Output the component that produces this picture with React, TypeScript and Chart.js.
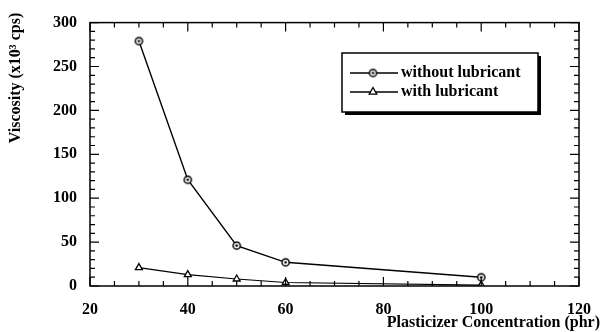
import React, { useEffect, useRef } from "react";
import { Chart, registerables } from "chart.js";

Chart.register(...registerables);

const concentration = [30, 40, 50, 60, 100];
const withoutLubricant = [279, 121, 46, 27, 10];
const withLubricant = [21, 13, 8, 4, 1];
const xTickLabels = [20, 40, 60, 80, 100, 120];
const yTickLabels = [0, 50, 100, 150, 200, 250, 300];
const seriesNames = ["without lubricant", "with lubricant"];
const yTitle = "Viscosity (x10\u00B3 cps)";
const xTitle = "Plasticizer Concentration (phr)";

const FONT = "'Liberation Serif', 'DejaVu Serif', serif";

function makeCircleMarker(): HTMLCanvasElement {
  const c = document.createElement("canvas");
  c.width = 11;
  c.height = 11;
  const g = c.getContext("2d")!;
  g.fillStyle = "#fff";
  g.strokeStyle = "#000";
  g.lineWidth = 1.5;
  g.beginPath();
  g.arc(5.5, 5.5, 3.6, 0, Math.PI * 2);
  g.fill();
  g.stroke();
  g.fillStyle = "#000";
  g.beginPath();
  g.arc(5.5, 5.5, 1.3, 0, Math.PI * 2);
  g.fill();
  return c;
}

function drawTriangle(ctx: CanvasRenderingContext2D, x: number, y: number, r: number) {
  ctx.save();
  ctx.fillStyle = "#fff";
  ctx.strokeStyle = "#000";
  ctx.lineWidth = 1.3;
  ctx.beginPath();
  ctx.moveTo(x, y - r);
  ctx.lineTo(x + r * 0.95, y + r * 0.65);
  ctx.lineTo(x - r * 0.95, y + r * 0.65);
  ctx.closePath();
  ctx.fill();
  ctx.stroke();
  ctx.restore();
}

export default function App() {
  const ref = useRef<HTMLCanvasElement>(null);

  useEffect(() => {
    if (!ref.current) return;
    const circle = makeCircleMarker();

    const framePlugin = {
      id: "frame",
      afterDraw(chart: any) {
        const ctx = chart.ctx as CanvasRenderingContext2D;
        const { left, right, top, bottom } = chart.chartArea;
        const xs = chart.scales.x;
        const ys = chart.scales.y;
        ctx.save();
        ctx.strokeStyle = "#000";
        ctx.lineWidth = 1.5;
        ctx.strokeRect(left, top, right - left, bottom - top);
        ctx.lineWidth = 1.2;
        for (let v = xs.min; v <= xs.max + 1e-6; v += 5) {
          const px = xs.getPixelForValue(v);
          const len = v % 20 === 0 ? 9 : 5;
          ctx.beginPath();
          ctx.moveTo(px, bottom);
          ctx.lineTo(px, bottom - len);
          ctx.moveTo(px, top);
          ctx.lineTo(px, top + len);
          ctx.stroke();
        }
        for (let v = ys.min; v <= ys.max + 1e-6; v += 10) {
          const py = ys.getPixelForValue(v);
          const len = v % 50 === 0 ? 9 : 5;
          ctx.beginPath();
          ctx.moveTo(left, py);
          ctx.lineTo(left + len, py);
          ctx.moveTo(right, py);
          ctx.lineTo(right - len, py);
          ctx.stroke();
        }
        ctx.fillStyle = "#000";
        ctx.font = `bold 16px ${FONT}`;
        ctx.textBaseline = "middle";
        ctx.textAlign = "right";
        ctx.fillText(xTitle, 600, 323);
        ctx.save();
        ctx.translate(16, 78);
        ctx.rotate(-Math.PI / 2);
        ctx.textAlign = "center";
        ctx.font = `bold 16px ${FONT}`;
        ctx.fillText(yTitle, 0, 0);
        ctx.restore();

        const bx = 342, by = 53, bw = 196, bh = 59;
        ctx.fillStyle = "#000";
        ctx.fillRect(bx + 3, by + 3, bw, bh);
        ctx.fillStyle = "#fff";
        ctx.fillRect(bx, by, bw, bh);
        ctx.lineWidth = 1.5;
        ctx.strokeStyle = "#000";
        ctx.strokeRect(bx, by, bw, bh);
        const rows = [73, 92];
        chart.data.datasets.forEach((ds: any, i: number) => {
          const y = rows[i];
          ctx.lineWidth = 1.3;
          ctx.beginPath();
          ctx.moveTo(350, y);
          ctx.lineTo(398, y);
          ctx.stroke();
          if (i === 0) ctx.drawImage(circle, 373 - 5.5, y - 5.5);
          else drawTriangle(ctx, 373, y - 0.5, 4);
          ctx.fillStyle = "#000";
          ctx.font = `bold 16px ${FONT}`;
          ctx.textAlign = "left";
          ctx.textBaseline = "middle";
          ctx.fillText(ds.label, 401, y);
        });
        ctx.restore();
      },
    };

    const chart = new Chart(ref.current, {
      type: "scatter",
      data: {
        datasets: [
          {
            label: seriesNames[0],
            data: concentration.map((x, i) => ({ x, y: withoutLubricant[i] })),
            showLine: true,
            borderColor: "#000",
            borderWidth: 1.4,
            pointStyle: circle as any,
            pointRadius: 5,
            backgroundColor: "#fff",
          },
          {
            label: seriesNames[1],
            data: concentration.map((x, i) => ({ x, y: withLubricant[i] })),
            showLine: true,
            borderColor: "#000",
            borderWidth: 1.2,
            pointStyle: "triangle",
            pointRadius: 4,
            pointBorderWidth: 1.3,
            pointBackgroundColor: "#fff",
            pointBorderColor: "#000",
            backgroundColor: "#fff",
          },
        ],
      },
      options: {
        animation: false,
        responsive: false,
        maintainAspectRatio: false,
        layout: { padding: { top: 21, right: 0, left: 0, bottom: 0 } },
        plugins: { legend: { display: false }, tooltip: { enabled: false } },
        scales: {
          x: {
            type: "linear",
            min: 20,
            max: 120,
            afterFit: (s: any) => { s.height = 46; },
            afterBuildTicks: (s: any) => { s.ticks = xTickLabels.map((v) => ({ value: v })); },
            grid: { display: false, drawTicks: false },
            border: { display: false },
            ticks: {
              padding: 14,
              color: "#000",
              font: { family: FONT, size: 16, weight: "bold" },
              maxRotation: 0,
            },
          },
          y: {
            type: "linear",
            min: 0,
            max: 300,
            afterFit: (s: any) => { s.width = 90; },
            afterBuildTicks: (s: any) => { s.ticks = yTickLabels.map((v) => ({ value: v })); },
            grid: { display: false, drawTicks: false },
            border: { display: false },
            ticks: {
              padding: 13,
              color: "#000",
              font: { family: FONT, size: 16, weight: "bold" },
            },
          },
        },
      },
      plugins: [framePlugin],
    });
    return () => chart.destroy();
  }, []);

  return (
    <div style={{ position: "fixed", left: 0, top: 0, width: 605, height: 332, background: "#fff" }}>
      <canvas ref={ref} width={605} height={332} style={{ width: 605, height: 332 }} />
    </div>
  );
}
